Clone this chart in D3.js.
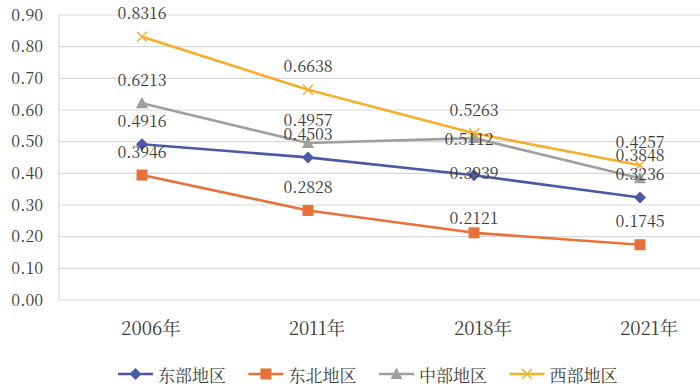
<html>
  <head>
    <meta charset="utf-8" />
    <title>地区</title>
    <script src="https://cdnjs.cloudflare.com/ajax/libs/d3/7.6.1/d3.min.js"></script>
    <style>
      body { margin: 0; background: #fff; }
      svg { display: block; }
    </style>
  </head>
  <body>
    <svg width="700" height="389"></svg>
  </body>

  <script>
    const years = ["2006年", "2011年", "2018年", "2021年"];
    const seriesNames = ["东部地区", "东北地区", "中部地区", "西部地区"];
    const east = [0.4916, 0.4503, 0.3939, 0.3236];
    const northeast = [0.3946, 0.2828, 0.2121, 0.1745];
    const central = [0.6213, 0.4957, 0.5112, 0.3848];
    const west = [0.8316, 0.6638, 0.5263, 0.4257];
    const yTicks = [0, 0.1, 0.2, 0.3, 0.4, 0.5, 0.6, 0.7, 0.8, 0.9];

    const FONT = '"Noto Serif CJK SC", "Liberation Serif", serif';
    const TXT = "#3c3c3c";
    const colors = ["#4b5aa4", "#e8713a", "#a39e9c", "#f6ae2b"];
    const shapes = ["diamond", "square", "triangle", "cross"];
    const series = [east, northeast, central, west];
    // label nudges where the original labels were moved by hand
    const labelDy = [[-24, -24, -3, -24], [-24, -24, -15, -24], [-24, -24, 0, -24], [-24, -24, -24, -24]];
    const labelDx = [[0, 0, 0, 0], [0, 0, 0, 0], [0, 0, -5, 0], [0, 0, 0, 0]];

    const svg = d3.select("svg");
    const x = d3.scalePoint().domain(years).range([59, 723]).padding(0.5);
    const y = d3.scaleLinear().domain([0, 0.9]).range([300, 15]);

    // gridlines
    svg.append("g").selectAll("line").data(yTicks).join("line")
      .attr("x1", 59).attr("x2", 723)
      .attr("y1", (d) => y(d)).attr("y2", (d) => y(d))
      .attr("stroke", "#d9d9d9").attr("stroke-width", 1.2);
    svg.append("line")
      .attr("x1", 59).attr("x2", 59).attr("y1", y(0.9)).attr("y2", y(0))
      .attr("stroke", "#d9d9d9").attr("stroke-width", 1.2);

    // y axis labels
    const yAxis = d3.axisLeft(y).tickValues(yTicks).tickSize(0).tickPadding(16)
      .tickFormat(d3.format(".2f"));
    const yg = svg.append("g").attr("transform", "translate(59,0)").call(yAxis);
    yg.select(".domain").remove();
    yg.selectAll("text")
      .style("font-family", FONT).style("font-size", "16px").style("fill", TXT);

    // x axis labels
    svg.append("g").selectAll("text").data(years).join("text")
      .attr("x", (d) => x(d) + 9).attr("y", 327)
      .attr("text-anchor", "middle").attr("dominant-baseline", "central")
      .style("font-family", FONT).style("font-size", "18.5px").style("fill", TXT)
      .text((d) => d);

    function marker(g, shape, color, cx, cy) {
      if (shape === "diamond") {
        g.append("path").attr("d", `M${cx},${cy - 6}L${cx + 6},${cy}L${cx},${cy + 6}L${cx - 6},${cy}Z`)
          .attr("fill", color);
      } else if (shape === "square") {
        g.append("rect").attr("x", cx - 5.5).attr("y", cy - 5.5).attr("width", 11).attr("height", 11)
          .attr("fill", color);
      } else if (shape === "triangle") {
        g.append("path").attr("d", `M${cx},${cy - 6.5}L${cx + 6},${cy + 5}L${cx - 6},${cy + 5}Z`)
          .attr("fill", color);
      } else {
        g.append("path").attr("d", `M${cx - 5},${cy - 5}L${cx + 5},${cy + 5}M${cx + 5},${cy - 5}L${cx - 5},${cy + 5}`)
          .attr("stroke", color).attr("stroke-width", 1.5).attr("fill", "none");
      }
    }

    const line = d3.line().x((d, i) => x(years[i])).y((d) => y(d));

    series.forEach((vals, k) => {
      const g = svg.append("g");
      g.append("path").attr("d", line(vals))
        .attr("fill", "none").attr("stroke", colors[k]).attr("stroke-width", 2.6)
        .attr("stroke-linejoin", "round");
      vals.forEach((v, i) => marker(g, shapes[k], colors[k], x(years[i]), y(v)));
    });

    // data labels on top
    series.forEach((vals, k) => {
      svg.append("g").selectAll("text").data(vals).join("text")
        .style("font-family", FONT).style("font-size", "16px").style("fill", TXT)
        .attr("x", (d, i) => x(years[i]) + labelDx[k][i])
        .attr("y", (d, i) => y(d) + labelDy[k][i])
        .attr("text-anchor", "middle").attr("dominant-baseline", "central")
        .text((d) => d.toFixed(4));
    });

    // legend
    const legend = svg.append("g").selectAll("g").data(seriesNames).join("g")
      .attr("transform", (d, i) => `translate(${118 + i * 130.5},374)`);
    legend.append("line").attr("x1", 0).attr("x2", 35).attr("y1", 0).attr("y2", 0)
      .attr("stroke", (d, i) => colors[i]).attr("stroke-width", 2.6);
    legend.each(function (d, i) { marker(d3.select(this), shapes[i], colors[i], 17.5, 0); });
    legend.append("text")
      .style("font-family", FONT).style("font-size", "17px").style("fill", TXT)
      .attr("x", 40).attr("y", 0).attr("dominant-baseline", "central")
      .text((d) => d);
  </script>
</html>
